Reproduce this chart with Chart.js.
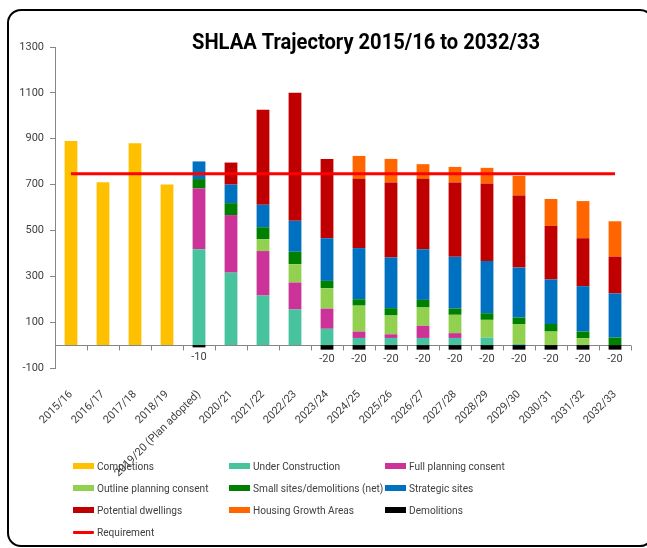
<!DOCTYPE html>
<html>
<head>
<meta charset="utf-8">
<title>SHLAA Trajectory</title>
<script src="https://cdn.jsdelivr.net/npm/chart.js@4.4.0/dist/chart.umd.min.js"></script>
<style>
  html, body { margin: 0; padding: 0; background: #fff; }
  #wrap { position: relative; width: 647px; height: 548px; overflow: hidden;
          font-family: Roboto, "Liberation Sans", sans-serif; }
  #frame { position: absolute; left: 7px; top: 9px; width: 647px; height: 538px;
           border: 2px solid #000; border-radius: 14px; box-sizing: border-box; }
  #chart { position: absolute; left: 0; top: 0; }
  #legend { position: absolute; left: 73px; top: 455px; display: grid;
            grid-template-columns: 156px 156px 156px; grid-auto-rows: 22px; }
  .item { display: flex; align-items: center; white-space: nowrap; font-size: 11.5px; color: #404040; }
  .sw { width: 21px; height: 6px; margin-right: 3px; flex: none; }
  .sw.line { height: 3px; border-radius: 1px; }
  .txt { display: inline-block; transform: scaleX(0.88); transform-origin: left center; }
</style>
</head>
<body>
<div id="wrap">
  <div id="frame"></div>
  <canvas id="chart" width="647" height="548"></canvas>
  <div id="legend"></div>
</div>
<script>
// Financial years of the trajectory
const categories = ['2015/16', '2016/17', '2017/18', '2018/19', '2019/20 (Plan adopted)',
  '2020/21', '2021/22', '2022/23', '2023/24', '2024/25', '2025/26', '2026/27',
  '2027/28', '2028/29', '2029/30', '2030/31', '2031/32', '2032/33'];

// Dwellings per year by source
const completions        = [890, 710, 880, 700, null, null, null, null, null, null, null, null, null, null, null, null, null, null];
const underConstruction  = [null, null, null, null, 418, 316, 216, 155, 71, 31, 31, 31, 31, 33, 5, null, null, null];
const fullPlanning       = [null, null, null, null, 265, 251, 194, 118, 88, 28, 16, 53, 21, null, null, null, null, null];
const outlinePlanning    = [null, null, null, null, null, null, 52, 80, 89, 113, 82, 80, 80, 77, 87, 59, 30, null];
const smallSites         = [null, null, null, null, 41, 52, 52, 54, 32, 28, 32, 33, 27, 29, 28, 33, 29, 33];
const strategicSites     = [null, null, null, null, 77, 81, 98, 135, 186, 223, 221, 221, 226, 228, 218, 194, 198, 192];
const potentialDwellings = [null, null, null, null, null, 96, 414, 558, 346, 302, 327, 307, 324, 338, 314, 234, 209, 161];
const housingGrowthAreas = [null, null, null, null, null, null, null, null, null, 100, 103, 64, 68, 68, 86, 117, 162, 154];
const demolitions        = [null, null, null, null, -10, null, null, null, -20, -20, -20, -20, -20, -20, -20, -20, -20, -20];
const requirement        = [747, 747, 747, 747, 747, 747, 747, 747, 747, 747, 747, 747, 747, 747, 747, 747, 747, 747];

// Value axis ticks
const yMin = -100, yMax = 1300, yStep = 200;

const TEXT = '#404040';
const AXIS = '#868686';
const FONT = 'Roboto, "Liberation Sans", sans-serif';

const barSeries = [
  { label: 'Completions', data: completions, color: '#FFC000' },
  { label: 'Under Construction', data: underConstruction, color: '#47C39E' },
  { label: 'Full planning consent', data: fullPlanning, color: '#CC3399' },
  { label: 'Outline planning consent', data: outlinePlanning, color: '#92D050' },
  { label: 'Small sites/demolitions (net)', data: smallSites, color: '#008000' },
  { label: 'Strategic sites', data: strategicSites, color: '#0070C0' },
  { label: 'Potential dwellings', data: potentialDwellings, color: '#C00000' },
  { label: 'Housing Growth Areas', data: housingGrowthAreas, color: '#FF6600' },
  { label: 'Demolitions', data: demolitions, color: '#000000' }
];

const datasets = barSeries.map(s => ({
  type: 'bar',
  label: s.label,
  data: s.data,
  backgroundColor: s.color,
  borderWidth: 0,
  barPercentage: 0.4,
  categoryPercentage: 1.0,
  stack: 'supply',
  order: 1
}));
datasets.push({
  type: 'line',
  label: 'Requirement',
  data: requirement,
  borderColor: '#FF0000',
  borderWidth: 3,
  pointRadius: 0,
  fill: false,
  tension: 0,
  order: 0
});

// Horizontal axis line at zero with category dividers
const zeroAxis = {
  id: 'zeroAxis',
  beforeDatasetsDraw(chart) {
    const { ctx, chartArea, scales: { x, y } } = chart;
    const y0 = Math.round(y.getPixelForValue(0)) + 0.5;
    const step = x.getPixelForValue(1) - x.getPixelForValue(0);
    ctx.save();
    ctx.strokeStyle = AXIS;
    ctx.lineWidth = 1;
    ctx.beginPath();
    ctx.moveTo(chartArea.left, y0);
    ctx.lineTo(chartArea.right, y0);
    for (let i = 1; i <= categories.length; i++) {
      const px = Math.round(x.getPixelForValue(i) - step / 2) + 0.5;
      ctx.moveTo(px, y0);
      ctx.lineTo(px, y0 + 5);
    }
    ctx.stroke();
    ctx.restore();
  }
};

// Value labels under the demolition bars
const demolitionLabels = {
  id: 'demolitionLabels',
  afterDatasetsDraw(chart) {
    const idx = chart.data.datasets.findIndex(d => d.label === 'Demolitions');
    const meta = chart.getDatasetMeta(idx);
    const { ctx } = chart;
    ctx.save();
    ctx.fillStyle = TEXT;
    ctx.font = '11px ' + FONT;
    ctx.textAlign = 'center';
    ctx.textBaseline = 'top';
    meta.data.forEach((bar, i) => {
      const v = demolitions[i];
      if (v === null) return;
      ctx.fillText(String(v), bar.x, bar.y + 4);
    });
    ctx.restore();
  }
};

// Chart heading
const heading = {
  id: 'heading',
  afterDraw(chart) {
    const { ctx } = chart;
    const text = 'SHLAA Trajectory 2015/16 to 2032/33';
    ctx.save();
    ctx.font = 'bold 22px ' + FONT;
    const w = ctx.measureText(text).width;
    const target = 348;
    ctx.translate(366, 49);
    ctx.scale(target / w, 1);
    ctx.fillStyle = '#000';
    ctx.textAlign = 'center';
    ctx.textBaseline = 'alphabetic';
    ctx.fillText(text, 0, 0);
    ctx.restore();
  }
};

new Chart(document.getElementById('chart'), {
  data: { labels: categories, datasets },
  plugins: [zeroAxis, demolitionLabels, heading],
  options: {
    responsive: false,
    animation: false,
    devicePixelRatio: 1,
    layout: { padding: { left: 0, right: 16, top: 47, bottom: 0 } },
    plugins: { legend: { display: false }, title: { display: false }, tooltip: { enabled: false } },
    scales: {
      x: {
        stacked: true,
        offset: true,
        grid: { display: false },
        border: { display: false },
        ticks: { autoSkip: false, minRotation: 45, maxRotation: 45, padding: 12,
                 color: TEXT, font: { size: 11, family: FONT } },
        afterFit(scale) { scale.height = 180; }
      },
      y: {
        stacked: true,
        min: yMin,
        max: yMax,
        ticks: { stepSize: yStep, padding: 6, color: TEXT, font: { size: 11, family: FONT },
                 callback: v => String(v) },
        grid: { drawOnChartArea: false, drawTicks: true, tickLength: 5, color: AXIS },
        border: { color: AXIS },
        afterFit(scale) { scale.width = 55; }
      }
    }
  }
});

// Legend in three columns
const legendItems = barSeries.map(s => ({ label: s.label, color: s.color, line: false }))
  .concat([{ label: 'Requirement', color: '#FF0000', line: true }]);
const legend = document.getElementById('legend');
legendItems.forEach(it => {
  const el = document.createElement('div');
  el.className = 'item';
  const sw = document.createElement('span');
  sw.className = 'sw' + (it.line ? ' line' : '');
  sw.style.background = it.color;
  const tx = document.createElement('span');
  tx.className = 'txt';
  tx.textContent = it.label;
  el.appendChild(sw);
  el.appendChild(tx);
  legend.appendChild(el);
});
</script>
</body>
</html>
